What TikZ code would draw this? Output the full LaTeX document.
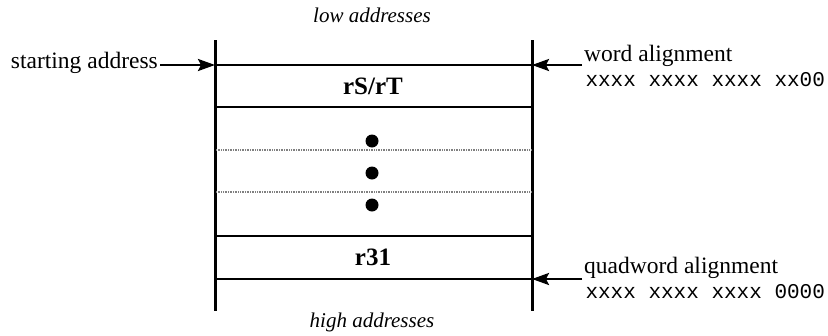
\documentclass[tikz,border=0pt]{standalone}
\usepackage{fontspec}
\setmainfont{Liberation Serif}
\setmonofont{Liberation Mono}
\usetikzlibrary{arrows.meta, positioning}

\begin{document}
\begin{tikzpicture}[
    x=1pt, y=-1pt,
    frame/.style={line width=3pt},
    rule/.style={line width=2.8pt},
    dots/.style={line width=2.6pt, black!50, dash pattern=on 1pt off 0.7pt},
    reg/.style={font=\fontsize{25}{28}\selectfont\bfseries},
    note/.style={font=\fontsize{23.5}{21}\selectfont, align=left, inner sep=2pt},
    bits/.style={font=\fontsize{21}{21}\selectfont\ttfamily},
    edge/.style={font=\fontsize{21}{22}\selectfont\itshape},
    arrow/.style={line width=2.4pt, -{Stealth[length=17pt, width=12pt, inset=3pt]}}
]
\useasboundingbox (0,0) rectangle (828,335);

% Frame
\coordinate (tl) at (215,40);
\coordinate (bl) at (215,311);
\coordinate (tr) at (532,40);
\coordinate (br) at (532,311);
\draw [frame] (tl) -- (bl);
\draw [frame] (tr) -- (br);

% Rows
\coordinate (l1) at (215,65);   \coordinate (r1) at (532,65);
\coordinate (l2) at (215,107);  \coordinate (r2) at (532,107);
\coordinate (l3) at (216,150);  \coordinate (r3) at (531,150);
\coordinate (l4) at (216,192);  \coordinate (r4) at (531,192);
\coordinate (l5) at (215,236);  \coordinate (r5) at (532,236);
\coordinate (l6) at (215,279);  \coordinate (r6) at (532,279);
\draw [rule] (l1) -- (r1);
\draw [rule] (l2) -- (r2);
\draw [dots] (l3) -- (r3);
\draw [dots] (l4) -- (r4);
\draw [rule] (l5) -- (r5);
\draw [rule] (l6) -- (r6);

% Labels
\node (low) [edge] at (372,15) {low addresses};
\node (high) [edge] at (372,322) {high addresses};
\node (rsrt) [reg] at (373,86) {rS/rT};
\node (rlast) [reg] at (373,257) {r31};
\foreach \y in {141,173,205}
    \fill (372,\y) circle (6.5pt);

% Pointers
\node (start) [note, anchor=east] at (160,63) {starting address};
\draw [arrow] (start.east |- l1) -- (l1);
\node (word) [note, anchor=west] at (582,56) {word alignment};
\node (wordbits) [bits, anchor=north west] at (word.south west) {xxxx xxxx xxxx xx00};
\draw [arrow] (word.west |- r1) -- (r1);
\node (quad) [note, anchor=west] at (582,268) {quadword alignment};
\node (quadbits) [bits, anchor=north west] at (quad.south west) {xxxx xxxx xxxx 0000};
\draw [arrow] (quad.west |- r6) -- (r6);

\end{tikzpicture}
\end{document}
